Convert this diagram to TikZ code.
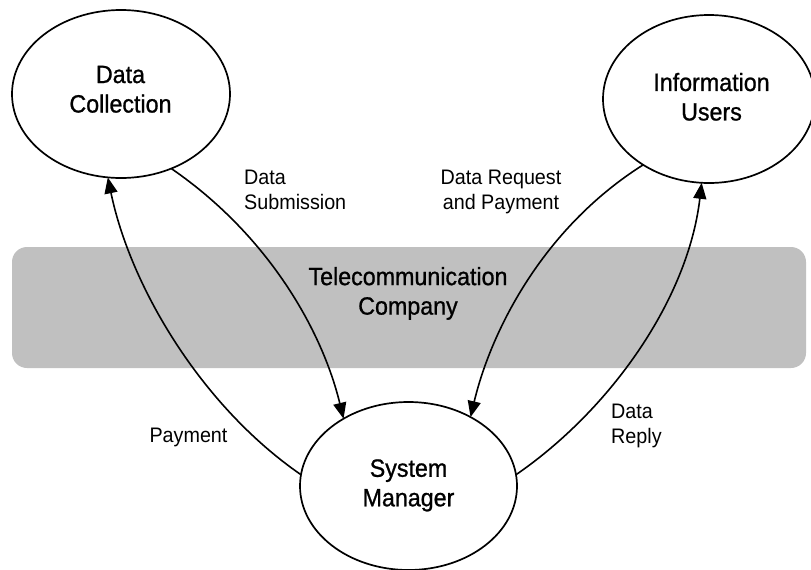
\documentclass[tikz,border=0pt]{standalone}
\usepackage{fontspec}
\setmainfont[FakeStretch=0.94]{Liberation Sans}
\newfontfamily\headfont[FakeStretch=0.93,FakeBold=0.9]{Liberation Sans}
\usetikzlibrary{shapes.geometric,arrows.meta}
\definecolor{bandgray}{RGB}{192,192,192}
\begin{document}
\begin{tikzpicture}[x=1pt,y=-1pt,
  bubble/.style={draw,ellipse,line width=1.7pt,inner sep=0pt,outer sep=0pt,
                 minimum width=#1,minimum height=168pt},
  band/.style={fill=bandgray,rounded corners=15pt,inner sep=0pt,
               minimum width=794pt,minimum height=121pt},
  title/.style={align=center,inner sep=0pt,font=\headfont\fontsize{25}{29.5}\selectfont},
  flowlabel/.style={inner sep=0pt,font=\fontsize{21}{24.5}\selectfont},
  flow/.style={line width=1.6pt,-{Triangle[length=16pt,width=13pt]}}]
\useasboundingbox (0,0) rectangle (811,570);

% shared carrier band
\node[band] (band) at (409,307.5) {};
\node[title] (bandtext) at (408,293.4) {Telecommunication\\Company};

% parties
\node[bubble=218pt] (dc) at (121,94) {};
\node[bubble=212pt] (iu) at (709,99) {};
\node[bubble=217pt] (sm) at (408.5,486) {};
\node[title] (dctext) at (120.5,89.3) {Data\\Collection};
\node[title] (iutext) at (711.5,96.8) {Information\\Users};
\node[title] (smtext) at (408.5,485.4) {System\\Manager};

% flows
\draw[flow] (dc.-56) .. controls (268,235) and (322,330) .. (sm.134);
\draw[flow] (sm.174) .. controls (200,405) and (130,285) .. (dc.-99);
\draw[flow] (iu.-135) .. controls (540,230) and (490,335) .. (sm.48);
\draw[flow] (sm.6) .. controls (610,410) and (688,300) .. (iu.-95);

% flow labels
\node[flowlabel,align=left,anchor=west] (lsub) at (244,189.75) {Data\\Submission};
\node[flowlabel,align=center] (lreq) at (501,191.9) {Data Request\\and Payment};
\node[flowlabel] (lpay) at (188.5,437.7) {Payment};
\node[flowlabel,align=left,anchor=west] (lrep) at (611,426) {Data\\Reply};
\end{tikzpicture}
\end{document}
